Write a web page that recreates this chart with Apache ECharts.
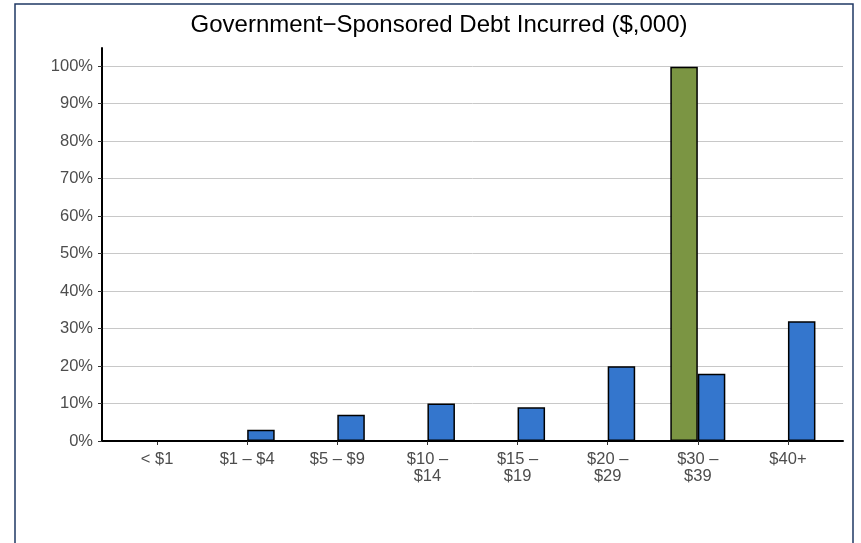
<!DOCTYPE html>
<html>
<head>
<meta charset="utf-8">
<script src="https://cdn.jsdelivr.net/npm/echarts@6/dist/echarts.min.js"></script>
<style>
html,body{margin:0;padding:0;background:#fff;}
#chart{width:861px;height:543px;}
</style>
</head>
<body>
<div id="chart"></div>
<script>
const titleText = 'Government\u2212Sponsored Debt Incurred ($,000)';
const categories = ['< $1', '$1 \u2013 $4', '$5 \u2013 $9', '$10 \u2013\n$14', '$15 \u2013\n$19', '$20 \u2013\n$29', '$30 \u2013\n$39', '$40+'];
const greenValues = [0, 0, 0, 0, 0, 0, 100, 0];
const blueValues = [0, 3, 7, 10, 9, 20, 18, 32];

const chart = echarts.init(document.getElementById('chart'), null, {renderer: 'canvas'});
const font = 'Liberation Sans, Arial, Helvetica, sans-serif';
const labelColor = '#4d4d4d';

chart.setOption({
  animation: false,
  backgroundColor: '#ffffff',
  title: {
    text: titleText,
    left: 434, top: 8,
    textAlign: 'center',
    textStyle: {fontFamily: font, fontSize: 24, fontWeight: 'normal', color: '#000'}
  },
  graphic: [{
    type: 'rect', shape: {x: 15, y: 4, width: 838, height: 560},
    style: {fill: 'none', stroke: '#1f3864', lineWidth: 1.5}, silent: true, z: 100
  }],
  grid: [
    {left: 102, right: 18, top: 66, bottom: 102},
    {left: 102, right: 18, top: 48, bottom: 102},
    {left: 112, right: 28, top: 48, bottom: 102}
  ],
  xAxis: [
    {gridIndex: 0, type: 'value', min: 0, max: 1, show: false, splitLine: {show: false}},
    {gridIndex: 1, type: 'value', min: 0, max: 1,
     axisLine: {show: true, onZero: false, lineStyle: {color: '#000', width: 2}},
     axisTick: {show: false}, axisLabel: {show: false}, splitLine: {show: false}},
    {gridIndex: 2, type: 'category', data: categories,
     axisLine: {show: false},
     axisTick: {show: true, alignWithLabel: true, length: 4, lineStyle: {color: '#333', width: 1}},
     axisLabel: {interval: 0, margin: 10, color: labelColor, fontFamily: font, fontSize: 16.5, lineHeight: 17}}
  ],
  yAxis: [
    {gridIndex: 0, type: 'value', min: 0, max: 100, interval: 10,
     axisLine: {show: false},
     axisTick: {show: true, length: 4, lineStyle: {color: '#333', width: 1}},
     axisLabel: {margin: 9, color: labelColor, fontFamily: font, fontSize: 16.5,
       formatter: '{value}%'},
     splitLine: {show: true, lineStyle: {color: '#c8c8c8', width: 1}}},
    {gridIndex: 1, type: 'value', min: 0, max: 105,
     axisLine: {show: true, onZero: false, lineStyle: {color: '#000', width: 2}},
     axisTick: {show: false}, axisLabel: {show: false}, splitLine: {show: false}},
    {gridIndex: 2, type: 'value', min: 0, max: 105, show: false, splitLine: {show: false}}
  ],
  series: [
    {type: 'bar', xAxisIndex: 2, yAxisIndex: 2, data: greenValues, barWidth: 27.5, barGap: '0%',
     itemStyle: {color: '#7b9543', borderColor: '#000', borderWidth: 1.5}},
    {type: 'bar', xAxisIndex: 2, yAxisIndex: 2, data: blueValues, barWidth: 27.5, barGap: '0%',
     itemStyle: {color: '#3476cd', borderColor: '#000', borderWidth: 1.5}}
  ]
});
</script>
</body>
</html>
